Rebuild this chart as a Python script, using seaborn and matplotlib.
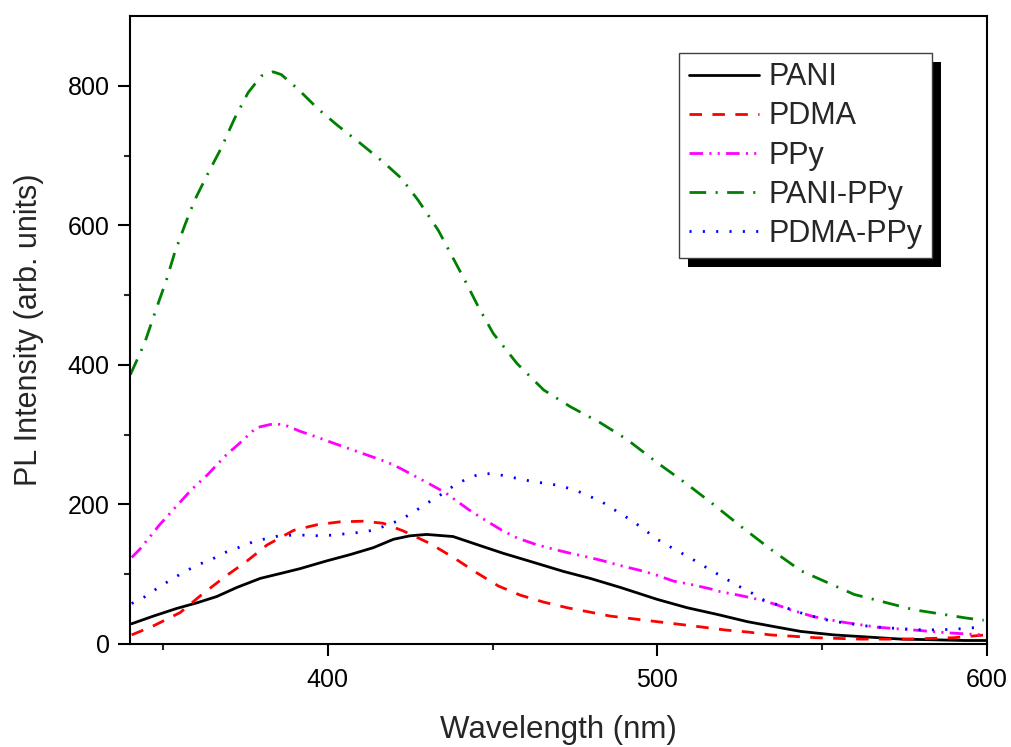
import numpy as np
import pandas as pd
import matplotlib
matplotlib.use("Agg")
import matplotlib.pyplot as plt
from matplotlib.patches import Rectangle
import seaborn as sns

# PL spectra (wavelength in nm, intensity in arb. units)
pani_x = [340.5, 347.1, 354.2, 360.3, 366.3, 372.4, 379.5, 385.6, 391.6, 399.6, 406.7, 413.8,
          419.9, 424.9, 430.0, 438.0, 446.2, 453.2, 462.4, 471.5, 479.6, 488.8, 499.9, 509.0,
          518.5, 527.3, 535.3, 543.5, 553.6, 563.7, 573.9, 584.0, 593.1, 599.7]
pani_y = [29, 40, 51, 59, 68, 81, 94, 101, 108, 119, 128, 138,
          150, 155, 157, 154, 141, 130, 117, 104, 94, 81, 64, 52,
          42, 32, 25, 18, 13, 10, 7, 6, 5, 5]

pdma_x = [340.5, 347.1, 355.2, 361.3, 368.4, 375.5, 381.6, 389.7, 396.8, 403.6, 410.7, 416.8,
          422.9, 431.0, 438.1, 445.2, 451.8, 458.4, 465.5, 472.6, 479.2, 485.7, 492.8, 499.9,
          507.0, 514.0, 520.7, 527.7, 534.3, 541.4, 548.0, 554.6, 561.7, 568.8, 575.9, 583.0,
          590.0, 597.1, 599.7]
pdma_y = [13, 26, 45, 69, 95, 119, 142, 163, 171, 175, 176, 173,
          162, 144, 124, 102, 83, 70, 60, 52, 46, 40, 36, 32,
          28, 24, 20, 17, 13, 11, 9, 8, 7, 7, 7, 8,
          9, 12, 13]

ppy_x = [340.5, 343.0, 349.0, 353.6, 358.6, 363.6, 369.2, 373.8, 378.3, 383.9, 387.4, 391.5,
         397.6, 401.6, 411.8, 417.8, 421.9, 431.0, 435.6, 442.6, 446.2, 452.8, 457.4, 462.9,
         467.5, 473.6, 477.6, 483.7, 488.2, 494.3, 498.9, 505.0, 509.5, 516.1, 519.1, 525.7,
         532.3, 536.3, 540.4, 547.5, 556.6, 566.8, 577.9, 588.0, 599.0]
ppy_y = [124, 136, 171, 195, 221, 243, 271, 290, 310, 316, 313, 305,
         295, 288, 271, 261, 252, 229, 217, 193, 182, 163, 152, 143,
         137, 130, 126, 119, 113, 106, 100, 90, 86, 79, 75, 69,
         62, 56, 49, 39, 31, 24, 20, 16, 13]

pani_ppy_x = [340.1, 344.4, 348.0, 351.0, 353.5, 356.6, 359.6, 363.6, 367.7, 371.7, 375.8, 379.8,
              383.4, 385.9, 391.0, 397.0, 403.0, 410.0, 417.0, 422.4, 427.4, 433.5, 437.0, 441.6,
              445.7, 450.2, 457.4, 465.5, 473.6, 482.7, 490.8, 499.9, 509.0, 517.0, 525.2, 534.3,
              543.5, 551.6, 559.7, 568.8, 577.9, 586.0, 594.0, 599.0]
pani_ppy_y = [386, 431, 481, 521, 560, 600, 636, 674, 711, 753, 790, 814,
              820, 816, 795, 767, 743, 717, 690, 667, 636, 593, 562, 521,
              483, 445, 402, 364, 340, 317, 293, 260, 229, 200, 169, 136,
              105, 88, 71, 60, 49, 43, 37, 34]

pdma_ppy_x = [340.5, 344.6, 348.6, 352.7, 356.7, 360.8, 364.7, 368.7, 372.8, 377.1, 381.2, 385.2,
              389.3, 393.3, 397.4, 401.4, 405.5, 409.7, 413.8, 417.8, 422.1, 426.0, 430.2, 434.3,
              438.3, 442.7, 446.5, 450.6, 454.6, 458.9, 462.9, 467.0, 471.0, 475.3, 479.3, 483.4,
              487.4, 491.5, 495.5, 499.6, 503.6, 507.8, 511.9, 516.1, 520.2, 524.2, 528.3, 532.3,
              544.5, 548.5, 552.6, 564.7, 573.4, 581.5, 589.6, 597.7]
pdma_ppy_y = [58, 68, 81, 93, 104, 114, 121, 131, 138, 146, 151, 155,
              156, 156, 155, 156, 158, 160, 163, 170, 178, 189, 202, 214,
              227, 238, 244, 244, 240, 236, 232, 230, 226, 220, 212, 203,
              191, 179, 166, 151, 140, 129, 118, 106, 95, 84, 74, 63,
              43, 38, 33, 25, 22, 20, 21, 24]

names = ["PANI", "PDMA", "PPy", "PANI-PPy", "PDMA-PPy"]
xs = [pani_x, pdma_x, ppy_x, pani_ppy_x, pdma_ppy_x]
ys = [pani_y, pdma_y, ppy_y, pani_ppy_y, pdma_ppy_y]
colors = ["black", "red", "magenta", "green", "blue"]
styles = ["-", (0, (4.5, 3.75)), (0, (4.9, 2.25, 0.75, 2.25, 0.75, 2.25)),
          (0, (6, 3.4, 0.75, 3.4)), (0, (0.75, 4.05))]

sns.set_style("ticks")
plt.rcParams["font.family"] = ["Liberation Sans", "DejaVu Sans"]

fig = plt.figure(figsize=(10.12, 7.47), dpi=100)
ax = fig.add_axes([0.1285, 0.1379, 0.8468, 0.8407])

for name, x, y, c, ls in zip(names, xs, ys, colors, styles):
    df = pd.DataFrame({"Wavelength": x, "Intensity": y})
    sns.lineplot(data=df, x="Wavelength", y="Intensity", ax=ax, color=c, linestyle=ls,
                 linewidth=2, label=name, estimator=None, sort=False)

ax.set_xlim(340, 600)
ax.set_ylim(0, 900)
ax.set_xticks([400, 500, 600])
ax.set_xticks([350, 450, 550], minor=True)
ax.set_yticks([0, 200, 400, 600, 800])
ax.set_yticks([100, 300, 500, 700], minor=True)
ax.tick_params(which="major", direction="out", length=8.6, width=1.5, labelsize=18,
               colors="black")
ax.tick_params(axis="x", which="major", pad=9)
ax.tick_params(axis="y", which="major", pad=6)
ax.tick_params(which="minor", direction="out", length=4.3, width=1.5)
for s in ax.spines.values():
    s.set_linewidth(1.5)
    s.set_color("black")

ax.set_xlabel("Wavelength (nm)", fontsize=22.5, labelpad=16)
ax.set_ylabel("PL Intensity (arb. units)", fontsize=22, labelpad=17)

leg = ax.legend(loc="upper right", bbox_to_anchor=(0.921, 0.929), bbox_transform=fig.transFigure,
                borderaxespad=0, fontsize=22, handlelength=2.3, handletextpad=0.33,
                labelspacing=0.3, borderpad=0.3, fancybox=False, framealpha=1,
                edgecolor="#404040")
leg.get_frame().set_linewidth(1.0)

# black drop shadow behind the legend box
fig.canvas.draw()
bb = leg.get_window_extent()
shadow = Rectangle((bb.x0 + 9, bb.y0 - 9), bb.width, bb.height, transform=None,
                   facecolor="black", edgecolor="none", zorder=4.5, clip_on=False)
ax.add_artist(shadow)

fig.savefig("out.png", dpi=100)
